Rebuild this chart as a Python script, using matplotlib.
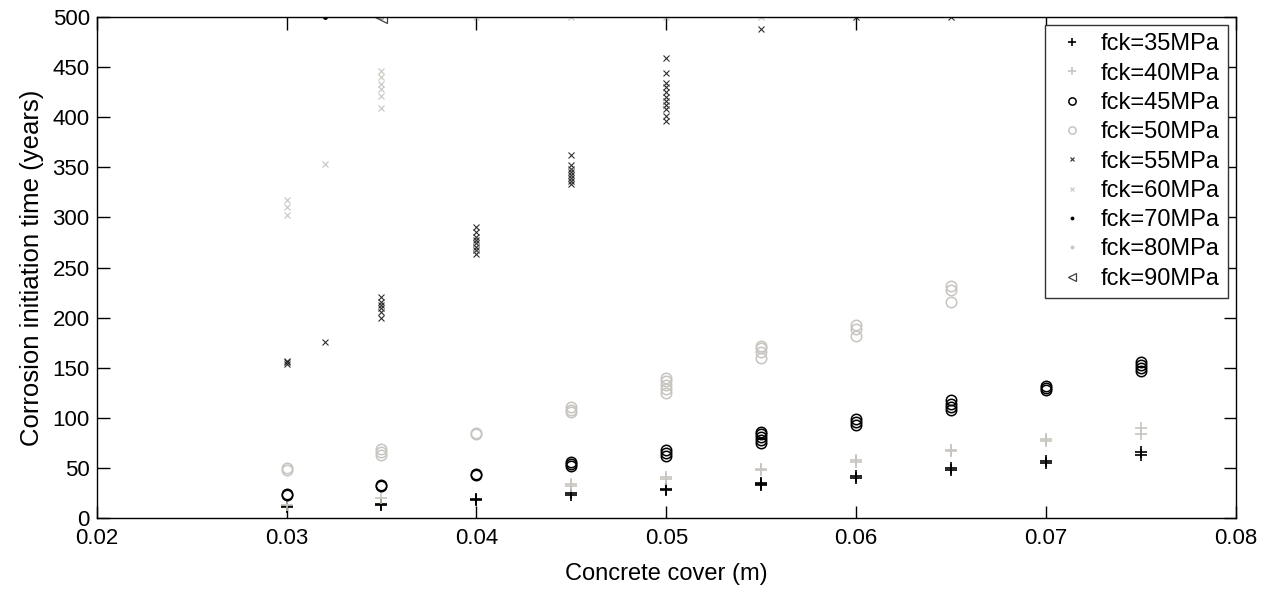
import matplotlib
matplotlib.use("Agg")
import matplotlib.pyplot as plt

plt.rcParams['font.family'] = ['Liberation Sans', 'DejaVu Sans']

# (cover, time) pairs, one list per series
c35 = [0.03, 0.03, 0.035, 0.035, 0.04, 0.04, 0.045, 0.045, 0.05, 0.05, 0.055, 0.055, 0.055,
       0.06, 0.06, 0.065, 0.065, 0.07, 0.07, 0.075, 0.075]
t35 = [11, 12, 13, 14, 18, 19, 23, 25, 28, 29, 33, 34, 35, 40, 42, 48, 50, 55, 57, 63, 66]

c40 = [0.03, 0.035, 0.045, 0.045, 0.05, 0.05, 0.055, 0.055, 0.06, 0.06, 0.065, 0.065,
       0.07, 0.07, 0.075, 0.075]
t40 = [13, 20, 32, 34, 39, 41, 48, 49, 56, 58, 67, 68, 77, 79, 84, 90]

c45 = [0.03, 0.03, 0.035, 0.035, 0.04, 0.04, 0.045, 0.045, 0.045, 0.05, 0.05, 0.05,
       0.055, 0.055, 0.055, 0.055, 0.055, 0.06, 0.06, 0.06, 0.065, 0.065, 0.065, 0.065,
       0.07, 0.07, 0.07, 0.075, 0.075, 0.075, 0.075]
t45 = [23, 24, 32, 33, 43, 44, 52, 54, 56, 62, 65, 68, 75, 78, 81, 84, 86, 93, 96, 99,
       108, 111, 114, 118, 128, 130, 132, 147, 150, 153, 156]

c50 = [0.03, 0.03, 0.035, 0.035, 0.035, 0.04, 0.04, 0.045, 0.045, 0.045,
       0.05, 0.05, 0.05, 0.05, 0.05, 0.055, 0.055, 0.055, 0.055, 0.06, 0.06, 0.06,
       0.065, 0.065, 0.065]
t50 = [48, 50, 63, 66, 69, 84, 85, 106, 108, 111, 125, 129, 133, 137, 140,
       160, 166, 170, 172, 182, 189, 193, 216, 228, 232]

c55 = [0.03, 0.03, 0.03, 0.032, 0.035, 0.035, 0.035, 0.035, 0.035, 0.035,
       0.04, 0.04, 0.04, 0.04, 0.04, 0.04, 0.04, 0.04,
       0.045, 0.045, 0.045, 0.045, 0.045, 0.045, 0.045, 0.045,
       0.05, 0.05, 0.05, 0.05, 0.05, 0.05, 0.05, 0.05, 0.05, 0.05, 0.05,
       0.055, 0.06, 0.065]
t55 = [154, 156, 157, 176, 200, 206, 210, 213, 216, 221,
       263, 267, 270, 274, 277, 280, 285, 290,
       333, 336, 339, 342, 345, 348, 352, 362,
       396, 401, 408, 412, 416, 420, 425, 430, 434, 444, 459,
       488, 500, 500]

c60 = [0.03, 0.03, 0.03, 0.032, 0.035, 0.035, 0.035, 0.035, 0.035, 0.035,
       0.04, 0.045, 0.05, 0.055]
t60 = [302, 310, 317, 353, 409, 421, 428, 433, 440, 446, 500, 500, 500, 500]

c70 = [0.032, 0.035]
t70 = [500, 500]
c80 = [0.035]
t80 = [500]
c90 = [0.035]
t90 = [500]

dark = 'black'
light = '#c8c4bf'

fig = plt.figure(figsize=(12.7, 5.94), dpi=100)
ax = fig.add_axes([0.0761, 0.1274, 0.8971, 0.8445])

ax.plot(c35, t35, '+', color=dark, ms=9, mew=1.2, label='fck=35MPa')
ax.plot(c40, t40, '+', color=light, ms=9, mew=1.2, label='fck=40MPa')
ax.plot(c45, t45, 'o', color=dark, mfc='none', ms=7.5, mew=1.1, label='fck=45MPa')
ax.plot(c50, t50, 'o', color=light, mfc='none', ms=7.5, mew=1.1, label='fck=50MPa')
ax.plot(c55, t55, 'x', color='#303030', ms=5, mew=0.8, label='fck=55MPa')
ax.plot(c60, t60, 'x', color=light, ms=5, mew=0.8, label='fck=60MPa')
ax.plot(c70, t70, '.', color=dark, ms=5, label='fck=70MPa')
ax.plot(c80, t80, '.', color=light, ms=5, label='fck=80MPa')
ax.plot(c90, t90, '<', color='#404040', mfc='none', ms=8, mew=0.9, label='fck=90MPa')

ax.set_xlim(0.02, 0.08)
ax.set_ylim(0, 500)
ax.set_xticks([0.02, 0.03, 0.04, 0.05, 0.06, 0.07, 0.08])
ax.set_xticklabels(['0.02', '0.03', '0.04', '0.05', '0.06', '0.07', '0.08'])
ax.set_yticks(range(0, 501, 50))
ax.tick_params(direction='in', length=9, width=1, top=True, right=True, labelsize=16)
ax.tick_params(axis='x', pad=7)
ax.tick_params(axis='y', pad=5)
for s in ax.spines.values():
    s.set_linewidth(1)

ax.set_xlabel('Concrete cover (m)', fontsize=17, labelpad=10)
ax.set_ylabel('Corrosion initiation time (years)', fontsize=18.5, labelpad=6)

leg = ax.legend(loc='upper right', fontsize=17, fancybox=False, framealpha=1,
                edgecolor='#333333', borderpad=0.35, labelspacing=0.31,
                handlelength=1.6, handletextpad=0.4, markerscale=0.7,
                borderaxespad=0, bbox_to_anchor=(0.993, 0.9835))
leg.get_frame().set_linewidth(1)

fig.savefig('out.png', dpi=100)
